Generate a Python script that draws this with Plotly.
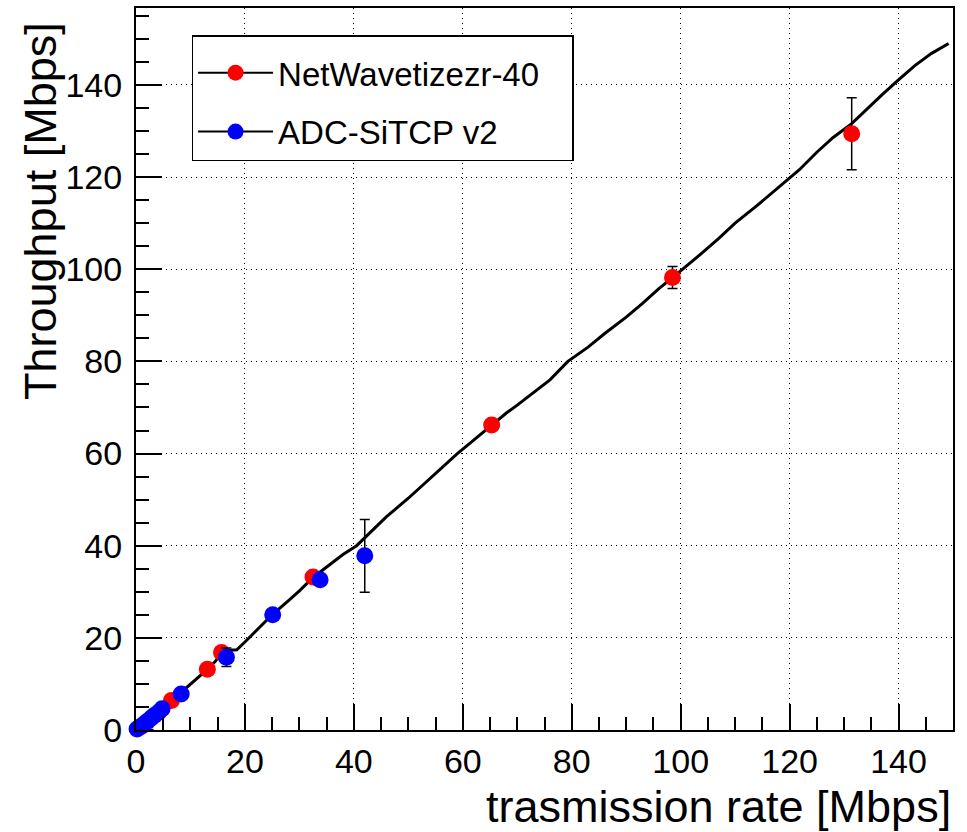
import plotly.graph_objects as go

# ──────────  DATA  ──────────
# measured throughput curve (black line)
curve_x = [0, 2, 4, 6, 8.3, 10, 12, 13.1, 14.5, 16, 18.5, 20, 22, 25, 28, 30, 32.5,
           36, 38, 40.5, 43, 46, 50, 53, 56, 59, 62, 65.3, 68, 70, 73, 76, 79.3,
           83, 86, 90, 93, 96, 98.5, 100.4, 104, 107, 110, 114, 118, 121.8, 125,
           128, 131.4, 134, 137, 140.2, 143, 146, 149.2]
curve_y = [0, 2.1, 4.0, 6.2, 8.2, 9.9, 12.0, 13.3, 14.8, 17.2, 17.4, 19.1, 21.4, 25.0,
           28.1, 30.2, 33.1, 36.2, 38.1, 40.0, 42.9, 46.3, 50.3, 53.6, 56.9, 60.0,
           62.9, 66.2, 68.8, 70.5, 73.2, 76.0, 80.0, 83.1, 86.0, 89.6, 92.6, 95.8,
           98.2, 100.0, 103.6, 106.7, 110.0, 113.8, 117.8, 121.6, 125.4, 128.6,
           131.6, 134.6, 137.9, 141.3, 144.2, 146.8, 149.0]

# NetWavetizezr-40 (red)
nw_x   = [1.0, 2.3, 6.5, 13.1, 15.7, 32.5, 65.3, 98.5, 131.4]
nw_y   = [0.8, -0.2, 6.4, 13.2, 16.8, 33.2, 66.2, 98.2, 129.4]
nw_err = [0.3, 0.3, 0.4, 0.5, 0.6, 0.8, 1.0, 2.4, 7.8]

# ADC-SiTCP v2 (blue)
adc_x   = [0.2, 0.8, 1.5, 2.1, 2.8, 3.4, 4.2, 4.8, 8.3, 16.6, 25.1, 33.8, 42.0]
adc_y   = [0.2, 0.7, 1.3, 1.9, 2.6, 3.2, 3.9, 4.6, 7.8, 15.8, 25.0, 32.6, 37.8]
adc_err = [0.1, 0.1, 0.1, 0.1, 0.1, 0.1, 0.2, 0.2, 0.4, 2.0, 0.6, 0.8, 7.9]

X_RANGE = [0, 150]
Y_RANGE = [0, 156.7]

FONT = "Liberation Sans, Arial, sans-serif"
PAD = "\u00a0" * 3   # right padding inside the legend box

fig = go.Figure()

fig.add_trace(go.Scatter(
    x=curve_x, y=curve_y, mode="lines",
    line=dict(color="black", width=3), showlegend=False, hoverinfo="skip"
))

fig.add_trace(go.Scatter(
    x=nw_x, y=nw_y, mode="markers",
    marker=dict(color="#ff0000", size=17, symbol="circle"),
    error_y=dict(type="data", array=nw_err, color="black", thickness=1.5, width=5),
    cliponaxis=False, showlegend=False
))

fig.add_trace(go.Scatter(
    x=adc_x, y=adc_y, mode="markers",
    marker=dict(color="#0000ff", size=17, symbol="circle"),
    error_y=dict(type="data", array=adc_err, color="black", thickness=1.5, width=5),
    cliponaxis=False, showlegend=False
))

# legend entries (line + marker, like ROOT "lp")
fig.add_trace(go.Scatter(
    x=[None], y=[None], mode="lines+markers", name="NetWavetizezr-40" + PAD,
    line=dict(color="black", width=2), marker=dict(color="#ff0000", size=17),
    legendgroup="a"
))
fig.add_trace(go.Scatter(
    x=[None], y=[None], mode="lines+markers", name="ADC-SiTCP v2",
    line=dict(color="black", width=2), marker=dict(color="#0000ff", size=17),
    legendgroup="b"
))

axis_common = dict(
    showline=True, linecolor="black", linewidth=2, mirror=True,
    ticks="inside", ticklen=26, tickwidth=1.5, tickcolor="black",
    showgrid=True, gridcolor="black", gridwidth=1, griddash="1px,4px",
    zeroline=False, dtick=20, tick0=0, automargin=False,
    tickfont=dict(family=FONT, size=34, color="black"),
    minor=dict(ticks="inside", dtick=5, ticklen=13, tickwidth=1.5,
               tickcolor="black", showgrid=False),
)

fig.update_xaxes(range=X_RANGE, **axis_common)
fig.update_yaxes(range=Y_RANGE, ticklabelstandoff=5, **axis_common)

fig.add_annotation(
    text="trasmission rate [Mbps]", xref="paper", yref="paper",
    x=1, y=0, xanchor="right", yanchor="middle", yshift=-76, showarrow=False,
    font=dict(family=FONT, size=45, color="black")
)
fig.add_annotation(
    text="Throughput [Mbps]", xref="paper", yref="paper", textangle=-90,
    x=0, y=1, xanchor="center", yanchor="top", xshift=-96, yshift=-12,
    showarrow=False, font=dict(family=FONT, size=45, color="black")
)

fig.update_layout(
    width=967, height=832,
    margin=dict(l=136, r=14, t=8, b=102),
    paper_bgcolor="white", plot_bgcolor="white",
    showlegend=True,
    legend=dict(
        x=0.068, y=0.962, xanchor="left", yanchor="top",
        bgcolor="white", bordercolor="black", borderwidth=1.5,
        font=dict(family=FONT, size=33, color="black"),
        title=dict(text="\u00a0", font=dict(size=6)),
        traceorder="grouped", tracegroupgap=13, itemwidth=75,
    ),
)

# drop the browser's default page margin so the figure sits at (0, 0)
fig.write_html("out.html", config={"displayModeBar": False},
               post_script="document.body.style.margin='0';")
